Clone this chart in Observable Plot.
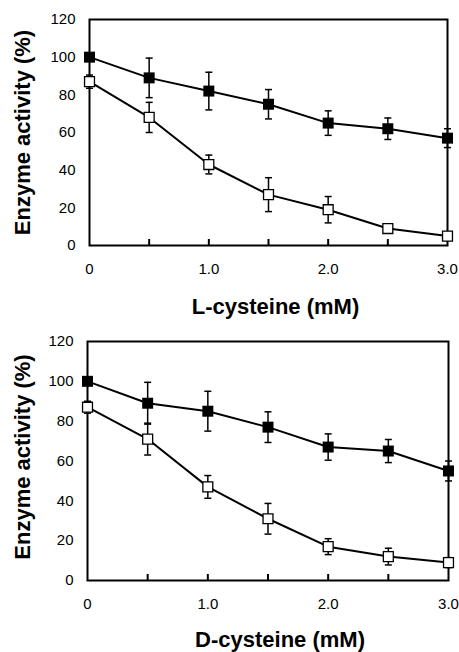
<!DOCTYPE html>
<html><head><meta charset="utf-8">
<script src="https://cdn.jsdelivr.net/npm/d3@7"></script>
<script src="https://cdn.jsdelivr.net/npm/@observablehq/plot@0.6"></script>
<style>body{margin:0;background:#fff} #chart svg{display:block}</style>
</head><body><div id="chart"></div>
<script>
const conc = [0, 0.5, 1.0, 1.5, 2.0, 2.5, 3.0];
const xTickLabels = [0, 1, 2, 3];
const xMinorTicks = [0.5, 1.0, 1.5, 2.0, 2.5];
const yTicks = [0, 20, 40, 60, 80, 100, 120];
const yLabel = "Enzyme activity (%)";
const lLabel = "L-cysteine (mM)";
const dLabel = "D-cysteine (mM)";
const lFilled = [100, 89, 82, 75, 65, 62, 57];
const lFilledErr = [0, 10.5, 10, 7.8, 6.5, 5.7, 5];
const lOpen = [87, 68, 43, 27, 19, 9, 5];
const lOpenErr = [3.5, 8, 5, 9, 7, 2.5, 1.5];
const dFilled = [100, 89, 85, 77, 67, 65, 55];
const dFilledErr = [0, 10.5, 10, 7.7, 6.6, 5.8, 5];
const dOpen = [87, 71, 47, 31, 17, 12, 9];
const dOpenErr = [3, 8, 5.7, 7.7, 4, 4.2, 2.5];

const capSymbol = {
  draw(ctx, size) {
    const w = Math.sqrt(size) / 2;
    ctx.moveTo(-w, 0);
    ctx.lineTo(w, 0);
  }
};

function panel(filled, filledErr, open, openErr, xLabel, o) {
  const plotH = o.height - o.marginTop - o.marginBottom;
  const rowsF = conc.map((x, i) => ({x, y: filled[i], e: filledErr[i]}));
  const rowsO = conc.map((x, i) => ({x, y: open[i], e: openErr[i]}));
  const errs = rowsF.concat(rowsO).filter(d => d.e > 0);
  const caps = errs.flatMap(d => [{x: d.x, y: d.y - d.e}, {x: d.x, y: d.y + d.e}]);
  return Plot.plot({
    width: 459,
    height: o.height,
    marginTop: o.marginTop,
    marginBottom: o.marginBottom,
    marginLeft: o.marginLeft,
    marginRight: o.marginRight,
    style: {fontFamily: "'Liberation Sans', Arial, sans-serif", color: "#000", background: "#fff", overflow: "visible"},
    x: {domain: [0, 3]},
    y: {domain: [0, 120]},
    marks: [
      Plot.tickX(xMinorTicks, {x: d => d, stroke: "#000", strokeWidth: 2, insetTop: plotH - 6}),
      Plot.axisY(yTicks, {tickSize: 0, tickPadding: 14, fontSize: 15, label: null}),
      Plot.axisX(xTickLabels, {tickSize: 0, tickPadding: 18, fontSize: 15, label: null,
        tickFormat: d => d === 0 ? "0" : d.toFixed(1)}),
      Plot.line(rowsF, {x: "x", y: "y", stroke: "#000", strokeWidth: 2}),
      Plot.line(rowsO, {x: "x", y: "y", stroke: "#000", strokeWidth: 2}),
      Plot.ruleX(errs, {x: "x", y1: d => d.y - d.e, y2: d => d.y + d.e, stroke: "#000", strokeWidth: 1.5}),
      Plot.dot(caps, {x: "x", y: "y", symbol: capSymbol, r: 3.95, stroke: "#000", strokeWidth: 1.5, fill: "none"}),
      Plot.frame({stroke: "#000", strokeWidth: 2}),
      Plot.dot(rowsF, {x: "x", y: "y", symbol: "square", r: 6.2, fill: "#000", stroke: "none"}),
      Plot.dot(rowsO, {x: "x", y: "y", symbol: "square", r: 5.6, fill: "#fff", stroke: "#000", strokeWidth: 1.3}),
      Plot.text([xLabel], {text: d => d, frameAnchor: "bottom", textAnchor: "middle", lineAnchor: "middle",
        dx: o.xlDx, dy: o.xlDy, fontSize: 22, fontWeight: "bold"}),
      Plot.text([yLabel], {text: d => d, frameAnchor: "left", textAnchor: "middle", lineAnchor: "middle",
        rotate: -90, dx: o.ylDx, dy: o.ylDy, fontSize: 22, fontWeight: "bold"})
    ]
  });
}

const chart = document.getElementById("chart");
chart.append(panel(lFilled, lFilledErr, lOpen, lOpenErr, lLabel,
  {height: 320, marginTop: 19, marginBottom: 75, marginLeft: 89, marginRight: 12, xlDx: 7, xlDy: 61, ylDx: -67, ylDy: 0}));
chart.append(panel(dFilled, dFilledErr, dOpen, dOpenErr, dLabel,
  {height: 332, marginTop: 21, marginBottom: 72, marginLeft: 87, marginRight: 11, xlDx: 12, xlDy: 59, ylDx: -65, ylDy: -4}));
</script>
</body></html>
